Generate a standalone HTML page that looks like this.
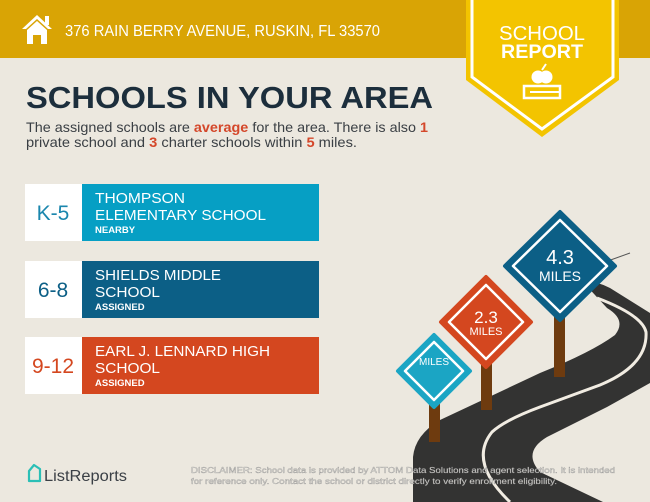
<!DOCTYPE html>
<html><head><meta charset="utf-8"><style>
html,body{margin:0;padding:0;background:#ece8df;}
svg{display:block;font-family:"Liberation Sans",sans-serif;}
</style></head><body>
<svg width="650" height="502" viewBox="0 0 650 502" xmlns="http://www.w3.org/2000/svg">
<rect width="650" height="502" fill="#ece8df"/>
<!-- header -->
<rect width="650" height="58" fill="#d9a405"/>
<g fill="#fff">
<polygon points="37,15 22,29 26,29 37,19 48,29 52,29"/>
<rect x="45" y="16" width="4" height="9"/>
<polygon points="27,30 37,21 47,30 47,44 41,44 41,35 33,35 33,44 27,44"/>
</g>
<text x="65" y="36" font-size="16" fill="#fff" textLength="315" lengthAdjust="spacingAndGlyphs">376 RAIN BERRY AVENUE, RUSKIN, FL 33570</text>
<!-- badge -->
<polygon points="466,0 619,0 619,80 542,137 466,80" fill="#f3c400"/>
<polyline points="472,0 472,77 542,129 613,77 613,0" fill="none" stroke="#fff" stroke-width="3"/>
<text x="542" y="40" font-size="20" fill="#fff" text-anchor="middle" textLength="86" lengthAdjust="spacingAndGlyphs">SCHOOL</text>
<text x="542" y="58" font-size="19" font-weight="bold" fill="#fff" text-anchor="middle" textLength="82" lengthAdjust="spacingAndGlyphs">REPORT</text>
<circle cx="538" cy="77" r="6.5" fill="#fff"/><circle cx="546" cy="77" r="6.5" fill="#fff"/>
<path d="M542,70 L546,64" stroke="#fff" stroke-width="2"/>
<rect x="524" y="86" width="36" height="12" fill="none" stroke="#fff" stroke-width="2.5"/>
<line x1="530" y1="92" x2="560" y2="92" stroke="#fff" stroke-width="2"/>
<!-- title -->
<text x="26" y="108" font-size="31" font-weight="bold" fill="#1c2e3c" textLength="407" lengthAdjust="spacingAndGlyphs">SCHOOLS IN YOUR AREA</text>
<text x="26" y="132" font-size="14" fill="#3a3f44" textLength="402" lengthAdjust="spacingAndGlyphs">The assigned schools are <tspan fill="#d4472a" font-weight="bold">average</tspan> for the area. There is also <tspan fill="#d4472a" font-weight="bold">1</tspan></text>
<text x="26" y="147" font-size="14" fill="#3a3f44" textLength="331" lengthAdjust="spacingAndGlyphs">private school and <tspan fill="#d4472a" font-weight="bold">3</tspan> charter schools within <tspan fill="#d4472a" font-weight="bold">5</tspan> miles.</text>
<!-- rows -->
<rect x="25" y="184" width="57" height="57" fill="#fff"/><rect x="82" y="184" width="237" height="57" fill="#069fc4"/>
<text x="53" y="220" font-size="21" fill="#1a86ad" text-anchor="middle">K-5</text>
<text x="95" y="203" font-size="14.5" fill="#fff" textLength="90" lengthAdjust="spacingAndGlyphs">THOMPSON</text>
<text x="95" y="220" font-size="14.5" fill="#fff" textLength="171" lengthAdjust="spacingAndGlyphs">ELEMENTARY SCHOOL</text>
<text x="95" y="233" font-size="9.5" fill="#fff" font-weight="bold">NEARBY</text>

<rect x="25" y="261" width="57" height="57" fill="#fff"/><rect x="82" y="261" width="237" height="57" fill="#0c5f86"/>
<text x="53" y="297" font-size="21" fill="#0c5f86" text-anchor="middle">6-8</text>
<text x="95" y="280" font-size="14.5" fill="#fff" textLength="126" lengthAdjust="spacingAndGlyphs">SHIELDS MIDDLE</text>
<text x="95" y="297" font-size="14.5" fill="#fff" textLength="65" lengthAdjust="spacingAndGlyphs">SCHOOL</text>
<text x="95" y="310" font-size="9.5" fill="#fff" font-weight="bold">ASSIGNED</text>

<rect x="25" y="337" width="57" height="57" fill="#fff"/><rect x="82" y="337" width="237" height="57" fill="#d4471f"/>
<text x="53" y="373" font-size="21" fill="#d4471f" text-anchor="middle">9-12</text>
<text x="95" y="356" font-size="14.5" fill="#fff" textLength="175" lengthAdjust="spacingAndGlyphs">EARL J. LENNARD HIGH</text>
<text x="95" y="373" font-size="14.5" fill="#fff" textLength="65" lengthAdjust="spacingAndGlyphs">SCHOOL</text>
<text x="95" y="386" font-size="9.5" fill="#fff" font-weight="bold">ASSIGNED</text>

<!-- road -->
<path d="M413,502 L413,457 Q415,435 440,420 L540,373 Q592,352 615,335 Q627,320 607,308 L583,282 Q595,280 610,288 L650,313 L650,383 L607,407 L547,437 Q522,452 540,472 L603,502 Z" fill="#333332"/>
<path d="M510,502 Q468,462 492,432 Q505,420 540,407 L600,385 Q648,365 646,332 Q642,315 597,298" fill="none" stroke="#f1ece2" stroke-width="3"/>
<!-- wire -->
<line x1="605" y1="262" x2="630" y2="253" stroke="#555" stroke-width="1"/>
<!-- posts -->
<rect x="429" y="400" width="11" height="42" fill="#6e3b0f"/>
<rect x="481" y="360" width="11" height="50" fill="#6e3b0f"/>
<rect x="554" y="310" width="11" height="67" fill="#6e3b0f"/>
<!-- cyan sign -->
<polygon points="434,335 470,371 434,407 398,371" fill="#1ba5c4" stroke="#1ba5c4" stroke-width="4" stroke-linejoin="round"/>
<polygon points="434,342 463,371 434,400 405,371" fill="none" stroke="#fff" stroke-width="2.5" stroke-linejoin="round"/>
<text x="434" y="365" font-size="10" fill="#fff" text-anchor="middle">MILES</text>
<!-- orange sign -->
<polygon points="486,277 531,322 486,367 441,322" fill="#d4471f" stroke="#d4471f" stroke-width="4" stroke-linejoin="round"/>
<polygon points="486,285 523,322 486,359 449,322" fill="none" stroke="#fff" stroke-width="2.5" stroke-linejoin="round"/>
<text x="486" y="323" font-size="17" fill="#fff" text-anchor="middle">2.3</text>
<text x="486" y="335" font-size="11" fill="#fff" text-anchor="middle">MILES</text>
<!-- blue sign -->
<polygon points="560,212 615,266 560,320 505,266" fill="#0c5f86" stroke="#0c5f86" stroke-width="4" stroke-linejoin="round"/>
<polygon points="560,220 607,266 560,312 513,266" fill="none" stroke="#fff" stroke-width="2.5" stroke-linejoin="round"/>
<text x="560" y="264" font-size="20" fill="#fff" text-anchor="middle">4.3</text>
<text x="560" y="281" font-size="14" fill="#fff" text-anchor="middle">MILES</text>
<!-- footer -->
<path d="M29,471 L29,481 L40,481 L40,469 L34,465 Z" fill="none" stroke="#2bbfb6" stroke-width="2.2" stroke-linejoin="round"/>
<text x="44" y="481" font-size="15.5" fill="#3b4046" textLength="83" lengthAdjust="spacingAndGlyphs">ListReports</text>
<g font-size="8.5" fill="#e8e6e0" stroke="#8b8b8b" stroke-width="0.3">
<text x="191" y="473" textLength="424" lengthAdjust="spacingAndGlyphs">DISCLAIMER: School data is provided by ATTOM Data Solutions and agent selection. It is intended</text>
<text x="191" y="484" textLength="366" lengthAdjust="spacingAndGlyphs">for reference only. Contact the school or district directly to verify enrollment eligibility.</text>
</g>
</svg>
</body></html>
